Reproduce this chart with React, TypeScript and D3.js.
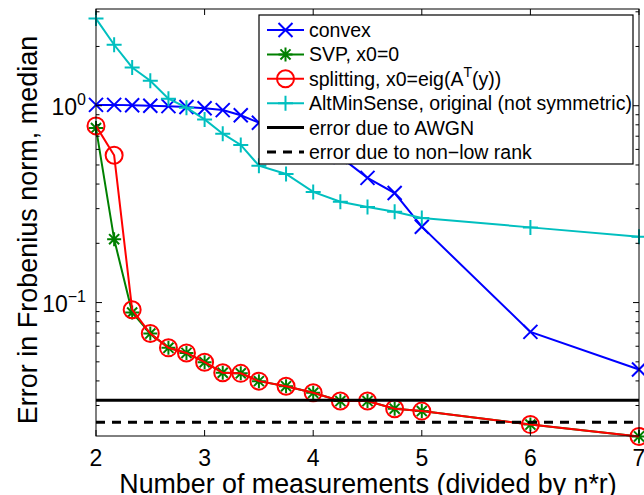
import React, { useRef, useEffect } from "react";
import * as d3 from "d3";

// measurements divided by n*r
const xs = [2, 2.167, 2.333, 2.5, 2.667, 2.833, 3, 3.167, 3.333, 3.5, 3.75, 4, 4.25, 4.5, 4.75, 5, 6, 7];

const convex = [1.01, 1.01, 1.005, 1.0, 0.995, 0.985, 0.97, 0.95, 0.895, 0.82, 0.72, 0.635, 0.55, 0.43, 0.36, 0.243, 0.071, 0.0457];
const svp = [0.77, 0.21, 0.089, 0.0696, 0.0589, 0.0555, 0.0498, 0.044, 0.0437, 0.0399, 0.0376, 0.0348, 0.0316, 0.0316, 0.0289, 0.0281, 0.024, 0.0209];
const splitting = [0.79, 0.56, 0.092, 0.0696, 0.0589, 0.0555, 0.0498, 0.044, 0.0437, 0.0399, 0.0376, 0.0348, 0.0316, 0.0316, 0.0289, 0.0281, 0.024, 0.0209];
const altMin = [2.77, 2.04, 1.565, 1.34, 1.085, 0.977, 0.852, 0.721, 0.632, 0.496, 0.45, 0.365, 0.325, 0.306, 0.289, 0.269, 0.241, 0.216];

const awgnLevel = 0.0319;
const lowRankLevel = 0.0247;

const xTicks = [2, 3, 4, 5, 6, 7];
const yMajor = [0.1, 1];
const yMajorExp = ["\u22121", "0"];

const legendLabels = [
  "convex",
  "SVP, x0=0",
  "splitting, x0=eig(A",
  "AltMinSense, original (not symmetric)",
  "error due to AWGN",
  "error due to non\u2212low rank",
];

const FONT = "'Liberation Sans', Arial, Helvetica, sans-serif";

function markerPath(kind, s) {
  if (kind === "x") return `M${-s},${-s}L${s},${s}M${-s},${s}L${s},${-s}`;
  if (kind === "+") return `M${-s},0L${s},0M0,${-s}L0,${s}`;
  if (kind === "*") {
    const d = s * 0.72;
    return `M${-s},0L${s},0M0,${-s}L0,${s}M${-d},${-d}L${d},${d}M${-d},${d}L${d},${-d}`;
  }
  return "";
}

export default function App() {
  const ref = useRef(null);
  const width = 644;
  const height = 495;

  useEffect(() => {
    const svg = d3.select(ref.current);
    svg.selectAll("*").remove();

    const left = 96, right = 639, top = 9, bottom = 436;

    const x = d3.scaleLinear().domain([2, 7]).range([left, right]);
    const y = d3.scaleLog().domain([0.021, 3.1]).range([bottom, top]);

    const series = [
      { vals: convex, color: "#0000ff", marker: "x" },
      { vals: svp, color: "#008000", marker: "*" },
      { vals: splitting, color: "#ff0000", marker: "o" },
      { vals: altMin, color: "#00bfbf", marker: "+" },
    ];

    const line = d3.line().x(d => x(d[0])).y(d => y(d[1]));

    const plot = svg.append("g");

    series.forEach(s => {
      const pts = xs.map((v, i) => [v, s.vals[i]]);
      plot.append("path")
        .datum(pts)
        .attr("fill", "none")
        .attr("stroke", s.color)
        .attr("stroke-width", 2)
        .attr("d", line);
      pts.forEach(p => {
        if (s.marker === "o") {
          plot.append("circle")
            .attr("cx", x(p[0])).attr("cy", y(p[1])).attr("r", 8.5)
            .attr("fill", "none").attr("stroke", s.color).attr("stroke-width", 2);
        } else {
          plot.append("path")
            .attr("transform", `translate(${x(p[0])},${y(p[1])})`)
            .attr("d", markerPath(s.marker, s.marker === "+" ? 7.5 : 7))
            .attr("fill", "none").attr("stroke", s.color).attr("stroke-width", 2);
        }
      });
    });

    // reference levels
    plot.append("line")
      .attr("x1", left).attr("x2", right)
      .attr("y1", y(awgnLevel)).attr("y2", y(awgnLevel))
      .attr("stroke", "#000").attr("stroke-width", 3);
    plot.append("line")
      .attr("x1", left).attr("x2", right)
      .attr("y1", y(lowRankLevel)).attr("y2", y(lowRankLevel))
      .attr("stroke", "#000").attr("stroke-width", 3)
      .attr("stroke-dasharray", "9,7");

    // axes box and ticks
    const ax = svg.append("g").attr("stroke", "#000").attr("stroke-width", 1);
    ax.append("rect")
      .attr("x", left).attr("y", top)
      .attr("width", right - left).attr("height", bottom - top)
      .attr("fill", "none");

    xTicks.forEach(t => {
      ax.append("line").attr("x1", x(t)).attr("x2", x(t)).attr("y1", bottom).attr("y2", bottom - 6);
      ax.append("line").attr("x1", x(t)).attr("x2", x(t)).attr("y1", top).attr("y2", top + 6);
    });

    const [lo, hi] = y.domain();
    for (let e = -2; e <= 0; e++) {
      for (let m = 1; m <= 9; m++) {
        const v = m * Math.pow(10, e);
        if (v < lo || v > hi) continue;
        const len = m === 1 ? 6 : 3.5;
        ax.append("line").attr("x1", left).attr("x2", left + len).attr("y1", y(v)).attr("y2", y(v));
        ax.append("line").attr("x1", right).attr("x2", right - len).attr("y1", y(v)).attr("y2", y(v));
      }
    }

    const txt = svg.append("g").attr("font-family", FONT).attr("fill", "#000");

    xTicks.forEach(t => {
      txt.append("text")
        .attr("x", x(t)).attr("y", 466)
        .attr("text-anchor", "middle")
        .attr("font-size", 23)
        .text(t);
    });

    yMajor.forEach((v, i) => {
      const tx = txt.append("text")
        .attr("x", 86).attr("y", y(v) + 9)
        .attr("text-anchor", "end")
        .attr("font-size", 23);
      tx.append("tspan").text("10");
      tx.append("tspan").attr("dy", -10).attr("font-size", 16).text(yMajorExp[i]);
    });

    txt.append("text")
      .attr("x", 368).attr("y", 493)
      .attr("text-anchor", "middle")
      .attr("font-size", 26.8)
      .text("Number of measurements (divided by n*r)");

    txt.append("text")
      .attr("transform", "translate(37,230) rotate(-90)")
      .attr("text-anchor", "middle")
      .attr("font-size", 27)
      .text("Error in Frobenius norm, median");

    // legend
    const lg = svg.append("g");
    lg.append("rect")
      .attr("x", 259).attr("y", 15).attr("width", 374).attr("height", 149)
      .attr("fill", "#fff").attr("stroke", "#000").attr("stroke-width", 1.2);

    const rowY = d3.scalePoint().domain(d3.range(legendLabels.length)).range([30, 152]);
    const legendStyles = [
      ...series.map(s => ({ color: s.color, marker: s.marker, width: 2, dash: null })),
      { color: "#000", marker: null, width: 3, dash: null },
      { color: "#000", marker: null, width: 3, dash: "9,7" },
    ];

    legendLabels.forEach((label, i) => {
      const ry = rowY(i);
      const st = legendStyles[i];
      lg.append("line")
        .attr("x1", 267).attr("x2", 304).attr("y1", ry).attr("y2", ry)
        .attr("stroke", st.color).attr("stroke-width", st.width)
        .attr("stroke-dasharray", st.dash);
      if (st.marker === "o") {
        lg.append("circle").attr("cx", 285.5).attr("cy", ry).attr("r", 8.5)
          .attr("fill", "none").attr("stroke", st.color).attr("stroke-width", 2);
      } else if (st.marker) {
        lg.append("path")
          .attr("transform", `translate(285.5,${ry})`)
          .attr("d", markerPath(st.marker, st.marker === "+" ? 7.5 : 7))
          .attr("fill", "none").attr("stroke", st.color).attr("stroke-width", 2);
      }
      const t = lg.append("text")
        .attr("x", 309).attr("y", ry + 7)
        .attr("font-family", FONT).attr("font-size", 19.5);
      t.append("tspan").text(label);
      if (i === 2) {
        t.append("tspan").attr("dy", -9).attr("font-size", 14).text("T");
        t.append("tspan").attr("dy", 9).text("(y))");
      }
    });
  }, []);

  return (
    <svg
      ref={ref}
      width={width}
      height={height}
      style={{ position: "absolute", left: 0, top: 0, background: "#fff" }}
    ></svg>
  );
}
